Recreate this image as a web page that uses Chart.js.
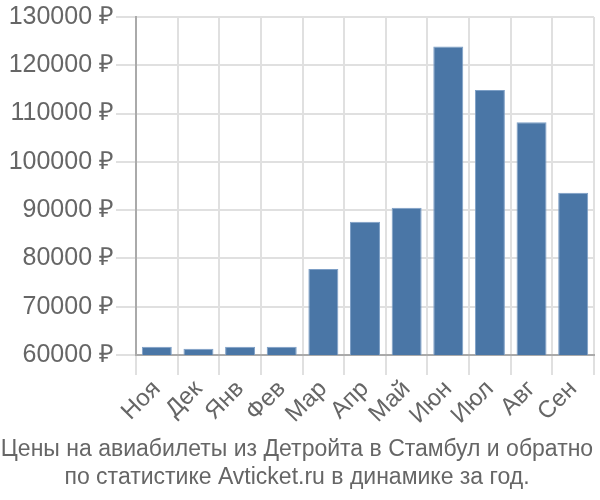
<!DOCTYPE html>
<html>
<head>
<meta charset="utf-8">
<script src="https://cdn.jsdelivr.net/npm/chart.js@4/dist/chart.umd.min.js"></script>
<style>
  html, body { margin: 0; padding: 0; background: #fff; }
  #wrap { width: 600px; height: 500px; }
</style>
</head>
<body>
<div id="wrap"><canvas id="chart" width="600" height="500"></canvas></div>
<script>
// Данные графика
const months = ["Ноя", "Дек", "Янв", "Фев", "Мар", "Апр", "Май", "Июн", "Июл", "Авг", "Сен"];
const prices = [61700, 61300, 61700, 61700, 77800, 87600, 90500, 123900, 114900, 108200, 93600];
const titleLines = [
  "Цены на авиабилеты из Детройта в Стамбул и обратно",
  "по статистике Avticket.ru в динамике за год."
];

const FONT = "'Liberation Sans', Arial, sans-serif";

new Chart(document.getElementById("chart"), {
  type: "bar",
  data: {
    labels: months,
    datasets: [{
      data: prices,
      backgroundColor: "#4a76a6",
      borderColor: "#7d9fc6",
      borderWidth: { top: 1, left: 1, right: 1, bottom: 0 },
      barPercentage: 0.72,
      categoryPercentage: 1.0
    }]
  },
  options: {
    responsive: false,
    animation: false,
    layout: { padding: { left: 0, right: 6, top: -2, bottom: 9 } },
    plugins: {
      legend: { display: false },
      tooltip: { enabled: false },
      title: {
        display: true,
        position: "bottom",
        text: titleLines,
        color: "#666",
        font: { family: FONT, size: 23, weight: "normal" },
        lineHeight: 1.2,
        padding: { top: 6, bottom: 0 }
      }
    },
    scales: {
      x: {
        grid: { color: "#e0e0e0", lineWidth: 2, tickLength: 20, offset: true },
        border: { color: "#aaa", width: 2 },
        ticks: {
          color: "#666",
          font: { family: FONT, size: 24 },
          minRotation: 45,
          maxRotation: 45,
          autoSkip: false,
          padding: 0
        }
      },
      y: {
        min: 60000,
        max: 130000,
        afterFit: axis => { axis.width = 136; },
        grid: { color: "#e0e0e0", lineWidth: 2, tickLength: 20 },
        border: { color: "#aaa", width: 2 },
        ticks: {
          stepSize: 10000,
          color: "#666",
          font: { family: FONT, size: 25 },
          padding: 2,
          callback: v => v + " ₽"
        }
      }
    }
  }
});
</script>
</body>
</html>
